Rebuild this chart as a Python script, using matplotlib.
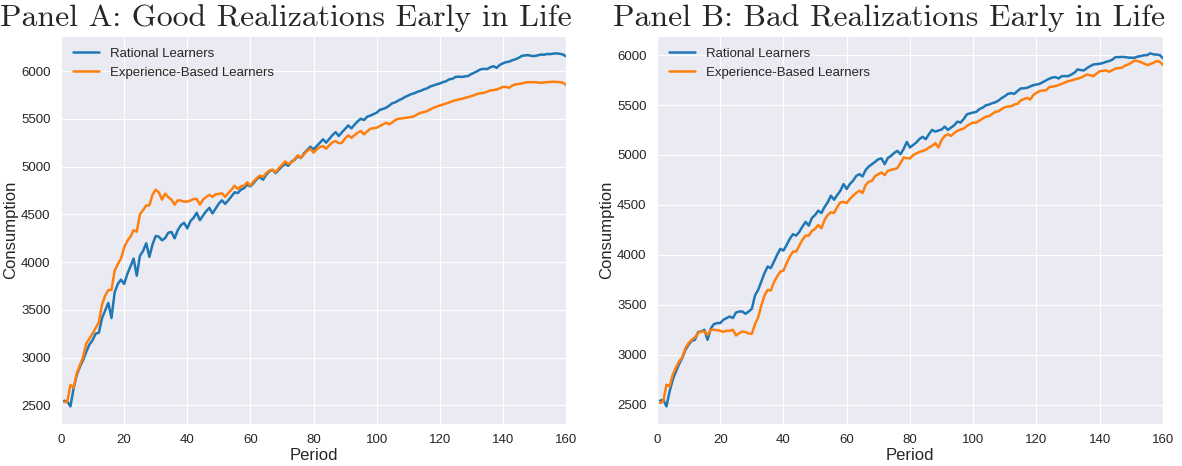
import numpy as np
import matplotlib
matplotlib.use("Agg")
import matplotlib.pyplot as plt
import seaborn as sns

periods = np.arange(1, 161)

# Panel A: good realizations early in life
rational_good = [
    2549, 2542, 2490, 2680, 2819, 2905, 2975, 3061, 3138, 3183,
    3252, 3262, 3415, 3494, 3574, 3415, 3685, 3772, 3817, 3772,
    3876, 3955, 4038, 3858, 4066, 4118, 4198, 4056, 4187, 4274,
    4267, 4229, 4253, 4309, 4316, 4250, 4336, 4388, 4412, 4354,
    4430, 4465, 4517, 4440, 4489, 4534, 4569, 4510, 4562, 4614,
    4648, 4610, 4648, 4690, 4731, 4724, 4759, 4776, 4811, 4794,
    4828, 4870, 4891, 4863, 4915, 4950, 4967, 4933, 4967, 5002,
    5029, 5009, 5054, 5071, 5110, 5090, 5140, 5175, 5209, 5181,
    5215, 5250, 5286, 5251, 5290, 5330, 5362, 5321, 5360, 5395,
    5432, 5401, 5440, 5475, 5502, 5488, 5523, 5535, 5550, 5565,
    5595, 5605, 5617, 5640, 5665, 5675, 5695, 5710, 5730, 5745,
    5760, 5770, 5785, 5795, 5810, 5820, 5840, 5850, 5862, 5871,
    5885, 5895, 5915, 5920, 5940, 5942, 5940, 5945, 5950, 5970,
    5985, 6003, 6020, 6024, 6022, 6040, 6052, 6035, 6065, 6082,
    6094, 6100, 6115, 6125, 6140, 6160, 6165, 6168, 6160, 6158,
    6165, 6174, 6172, 6180, 6178, 6184, 6186, 6182, 6175, 6155,
]
experience_good = [
    2535, 2540, 2715, 2687, 2836, 2923, 3009, 3148, 3200, 3252,
    3311, 3373, 3557, 3650, 3709, 3709, 3910, 3980, 4038, 4153,
    4222, 4267, 4336, 4319, 4500, 4545, 4593, 4596, 4707, 4759,
    4731, 4655, 4718, 4680, 4655, 4603, 4648, 4645, 4634, 4634,
    4645, 4662, 4662, 4603, 4655, 4683, 4704, 4683, 4711, 4714,
    4721, 4683, 4724, 4759, 4801, 4766, 4794, 4801, 4836, 4801,
    4846, 4880, 4905, 4891, 4932, 4960, 4967, 4943, 4984, 5019,
    5054, 5029, 5043, 5078, 5119, 5094, 5130, 5165, 5188, 5146,
    5180, 5205, 5216, 5188, 5225, 5255, 5268, 5245, 5251, 5295,
    5328, 5303, 5330, 5355, 5373, 5338, 5370, 5397, 5402, 5408,
    5425, 5443, 5460, 5443, 5465, 5490, 5502, 5505, 5510, 5514,
    5520, 5530, 5550, 5565, 5572, 5582, 5600, 5617, 5628, 5641,
    5650, 5662, 5672, 5686, 5695, 5704, 5710, 5721, 5728, 5739,
    5750, 5763, 5768, 5774, 5785, 5798, 5802, 5808, 5820, 5836,
    5834, 5826, 5850, 5861, 5866, 5871, 5880, 5885, 5884, 5885,
    5882, 5878, 5882, 5885, 5887, 5889, 5887, 5885, 5880, 5854,
]

# Panel B: bad realizations early in life
rational_bad = [
    2540, 2550, 2483, 2633, 2750, 2833, 2907, 2967, 3050, 3100,
    3140, 3150, 3227, 3233, 3250, 3150, 3260, 3307, 3317, 3317,
    3350, 3367, 3383, 3367, 3423, 3433, 3433, 3410, 3433, 3460,
    3593, 3650, 3733, 3817, 3883, 3867, 3933, 4000, 4060, 4043,
    4100, 4160, 4207, 4193, 4230, 4283, 4330, 4293, 4370, 4399,
    4442, 4419, 4480, 4526, 4592, 4552, 4600, 4642, 4709, 4659,
    4710, 4742, 4790, 4808, 4785, 4850, 4885, 4908, 4932, 4958,
    4965, 4908, 4970, 4991, 5020, 5041, 5008, 5060, 5131, 5075,
    5100, 5125, 5160, 5181, 5158, 5208, 5251, 5234, 5245, 5255,
    5284, 5251, 5275, 5298, 5334, 5324, 5360, 5407, 5417, 5424,
    5432, 5460, 5474, 5497, 5505, 5518, 5528, 5545, 5570, 5589,
    5612, 5619, 5612, 5640, 5666, 5668, 5672, 5685, 5699, 5706,
    5712, 5729, 5745, 5763, 5775, 5779, 5766, 5789, 5790, 5789,
    5805, 5823, 5856, 5850, 5846, 5870, 5890, 5906, 5910, 5913,
    5920, 5933, 5940, 5955, 5980, 5980, 5982, 5980, 5975, 5973,
    5973, 5985, 5990, 5998, 6000, 6017, 6007, 6005, 6000, 5967,
]
experience_bad = [
    2517, 2533, 2700, 2683, 2800, 2873, 2933, 2973, 3067, 3117,
    3150, 3173, 3217, 3233, 3233, 3200, 3250, 3250, 3247, 3240,
    3230, 3240, 3240, 3250, 3193, 3217, 3233, 3227, 3213, 3210,
    3307, 3373, 3493, 3593, 3650, 3643, 3727, 3783, 3833, 3843,
    3917, 3983, 4033, 4033, 4093, 4150, 4193, 4193, 4240, 4260,
    4299, 4266, 4350, 4400, 4426, 4419, 4480, 4526, 4530, 4519,
    4560, 4592, 4620, 4642, 4619, 4700, 4732, 4742, 4790, 4808,
    4825, 4798, 4842, 4850, 4858, 4868, 4918, 4975, 4968, 4965,
    4998, 5015, 5030, 5041, 5051, 5075, 5091, 5118, 5075, 5150,
    5191, 5208, 5191, 5220, 5241, 5255, 5264, 5291, 5310, 5324,
    5324, 5345, 5364, 5384, 5388, 5410, 5432, 5438, 5460, 5478,
    5485, 5488, 5505, 5512, 5545, 5560, 5572, 5555, 5600, 5622,
    5640, 5646, 5646, 5679, 5685, 5689, 5700, 5712, 5725, 5739,
    5745, 5756, 5765, 5773, 5790, 5806, 5798, 5789, 5815, 5839,
    5842, 5846, 5833, 5850, 5866, 5870, 5873, 5895, 5906, 5923,
    5946, 5940, 5930, 5915, 5900, 5910, 5923, 5940, 5933, 5900,
]

titles = [
    "Panel A: Good Realizations Early in Life",
    "Panel B: Bad Realizations Early in Life",
]
labels = ["Rational Learners", "Experience-Based Learners"]
xticks = [0, 20, 40, 60, 80, 100, 120, 140, 160]

sns.set_style("darkgrid")
plt.rcParams["font.family"] = ["Liberation Sans", "DejaVu Sans"]

fig = plt.figure(figsize=(11.82, 4.66), dpi=100)
ax_a = fig.add_axes([0.0516, 0.090, 0.4273, 0.8333])
ax_b = fig.add_axes([0.5558, 0.090, 0.4281, 0.8333])

panels = [
    (ax_a, rational_good, experience_good, 0.242),
    (ax_b, rational_bad, experience_bad, 0.752),
]
for (ax, rational, experience, title_x), title in zip(panels, titles):
    ax.plot(periods, rational, color="#1f77b4", linewidth=1.8, label=labels[0])
    ax.plot(periods, experience, color="#ff7f0e", linewidth=1.8, label=labels[1])
    ax.set_xlim(0, 160)
    ax.set_xticks(xticks)
    ax.set_xlabel("Period", fontsize=12, labelpad=1)
    ax.set_ylabel("Consumption", fontsize=12, labelpad=2)
    ax.tick_params(labelsize=9.5, colors="#262626", pad=4)
    ax.legend(loc="upper left", fontsize=9.5, frameon=False)
    fig.text(title_x, 0.932, title, ha="center", va="bottom",
             fontsize=22.9, family="cmr10")

fig.savefig("out.png", dpi=100)
